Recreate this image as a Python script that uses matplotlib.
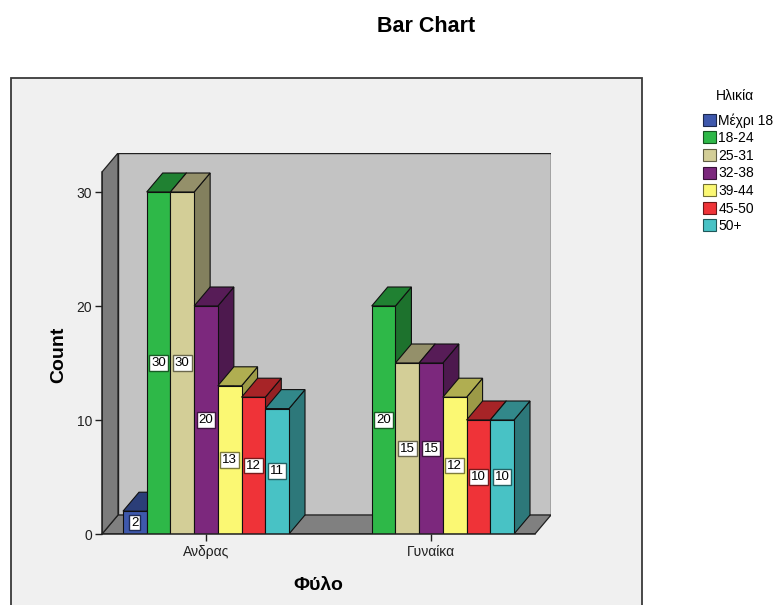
import matplotlib
matplotlib.use('Agg')
import matplotlib.pyplot as plt
from matplotlib.patches import Polygon, Rectangle, Patch
import matplotlib.colors as mcolors
import numpy as np

plt.rcParams['font.family'] = ['Liberation Sans', 'DejaVu Sans']

title = 'Bar Chart'
categories = ['Ανδρας', 'Γυναίκα']
age_groups = ['Μέχρι 18', '18-24', '25-31', '32-38', '39-44', '45-50', '50+']
counts_men = [2, 30, 30, 20, 13, 12, 11]
counts_women = [0, 20, 15, 15, 12, 10, 10]
y_ticks = [0, 10, 20, 30]
x_label = 'Φύλο'
y_label = 'Count'
legend_title = 'Ηλικία'
colors = ['#3e58ac', '#2eb848', '#d3ce97', '#7c287d', '#fbf873', '#ef3338', '#48c2c5']


def shade(c, f):
    r, g, b = mcolors.to_rgb(c)
    return (r * f, g * f, b * f)


W, H = 780, 605
fig = plt.figure(figsize=(W / 100, H / 100), dpi=100)
fig.patch.set_facecolor('white')

# outer chart panel
fig.patches.append(Rectangle((11 / W, -0.02), (642 - 11) / W, 1 - 78 / H + 0.02,
                             transform=fig.transFigure, facecolor='#f0f0f0',
                             edgecolor='#3a3a3a', lw=1.3, zorder=-10))

# plot geometry (pixels)
ax_l, ax_r, ax_t, ax_b = 102, 551, 153, 534
px_per_cat = 225.0
px_per_unit = 11.4
ax = fig.add_axes([ax_l / W, 1 - ax_b / H, (ax_r - ax_l) / W, (ax_b - ax_t) / H])
ax.set_zorder(1)
ax.set_facecolor('none')
x0 = -(206 - ax_l) / px_per_cat
x1 = x0 + (ax_r - ax_l) / px_per_cat
ytop = (ax_b - ax_t) / px_per_unit
ax.set_xlim(x0, x1)
ax.set_ylim(0, ytop)
ddx = 16 / px_per_cat
ddy = 19 / px_per_unit

# walls
ax.add_patch(Polygon([(x0 + ddx, ddy), (x1, ddy), (x1, ytop), (x0 + ddx, ytop)], closed=True,
                     fc='#c3c3c3', ec='#202020', lw=1.0, zorder=1))
ax.add_patch(Polygon([(x0, 0), (x1 - ddx, 0), (x1, ddy), (x0 + ddx, ddy)], closed=True,
                     fc='#808080', ec='#202020', lw=0.9, zorder=1.1))
ax.add_patch(Polygon([(x0, 0), (x0 + ddx, ddy), (x0 + ddx, ytop), (x0, ytop - ddy)], closed=True,
                     fc='#7c7c7c', ec='#202020', lw=0.9, zorder=1.1))

w = 0.1054
series = [counts_men, counts_women]
z = 2.0
for g, vals in enumerate(series):
    for i, v in enumerate(vals):
        if v <= 0:
            continue
        c = colors[i]
        xl = g + (i - 3.5) * w
        side = Polygon([(xl + w, 0), (xl + w + ddx, ddy), (xl + w + ddx, v + ddy), (xl + w, v)],
                       closed=True, fc=shade(c, 0.62), ec='#101010', lw=0.8, zorder=z)
        top = Polygon([(xl, v), (xl + w, v), (xl + w + ddx, v + ddy), (xl + ddx, v + ddy)],
                      closed=True, fc=shade(c, 0.7), ec='#101010', lw=0.8, zorder=z + 0.001)
        ax.add_patch(side)
        ax.add_patch(top)
        ax.bar(g + (i - 3) * w, v, width=w, color=c, edgecolor='#101010', lw=0.8, zorder=z + 0.002)
        ax.text(g + (i - 3) * w, v / 2, str(v), ha='center', va='center', fontsize=9.5,
                zorder=z + 0.003,
                bbox=dict(boxstyle='square,pad=0.14', fc='white', ec=shade(c, 0.5), lw=1.0))
        z += 0.01

for s in ['top', 'right']:
    ax.spines[s].set_visible(False)
ax.spines['left'].set_bounds(0, ytop - ddy)
ax.spines['bottom'].set_bounds(x0, x1 - ddx)
for s in ['left', 'bottom']:
    ax.spines[s].set_zorder(5)
    ax.spines[s].set_linewidth(1.1)
    ax.spines[s].set_color('#202020')

ax.set_xticks([0, 1], categories)
ax.set_yticks(y_ticks)
ax.tick_params(axis='both', length=5, width=1, colors='#202020', labelsize=10, pad=2)
ax.tick_params(axis='x', pad=3)

ax.set_ylabel(y_label, fontsize=14, fontweight='bold', va='center')
ax.yaxis.set_label_coords((59 - ax_l) / (ax_r - ax_l), (ax_b - 355) / (ax_b - ax_t))
ax.set_xlabel(x_label, fontsize=14, fontweight='bold', va='center')
ax.xaxis.set_label_coords((318 - ax_l) / (ax_r - ax_l), (ax_b - 585) / (ax_b - ax_t))

fig.text(426 / W, 1 - 26 / H, title, fontsize=15.5, fontweight='bold', ha='center', va='center')

fig.text(735 / W, 1 - 96 / H, legend_title, fontsize=10, ha='center', va='center')
handles = [Patch(facecolor=c, edgecolor=shade(c, 0.45), lw=0.8) for c in colors]
fig.legend(handles, age_groups, loc='upper left',
           bbox_to_anchor=(703 / W, 1 - 113 / H), frameon=False, fontsize=10,
           handlelength=0.95, handleheight=0.95, handletextpad=0.15,
           labelspacing=0.26, borderpad=0, borderaxespad=0)

fig.savefig('out.png', dpi=100)
